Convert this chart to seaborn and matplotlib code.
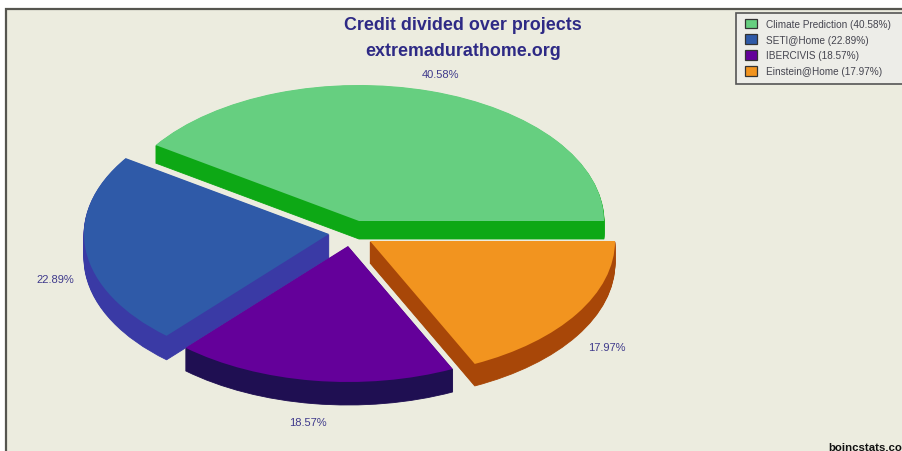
import matplotlib
matplotlib.use("Agg")
import matplotlib.pyplot as plt
from matplotlib.patches import Patch, Rectangle
import seaborn as sns

# Credit share per project
projects = ["Climate Prediction", "SETI@Home", "IBERCIVIS", "Einstein@Home"]
shares = [40.58, 22.89, 18.57, 17.97]
top_colors = ["#66CF80", "#2F5AA8", "#64009A", "#F2941F"]
side_colors = ["#0DA815", "#3A3AA5", "#1F0F52", "#A84708"]
pct_labels = ["40.58%", "22.89%", "18.57%", "17.97%"]

W, H = 902, 452
RX, RY = 245, 136
Y_SCALE = RX / RY
INK = "#2E2A85"

sns.set_theme(style="white")
plt.rcParams["font.family"] = ["Liberation Sans", "DejaVu Sans"]

fig = plt.figure(figsize=(W / 100, H / 100), dpi=100, facecolor="white")

# Cream plot area with a dark rule along its top and left edges
fig.patches.append(Rectangle((6 / W, -0.01), 1, 1.01 - 10 / H, transform=fig.transFigure,
                             facecolor="#ECECDF", edgecolor="#55554F", linewidth=1.6, zorder=-5))

ax = fig.add_axes([0, 0, 1, 1])
ax.patch.set_alpha(0)


def to_data(px, py):
    return px, (H - py) * Y_SCALE


# Apex of each slice's top face, and the thickness of its side wall (pixels)
apexes = [(359, 222), (329, 235), (348, 247), (370, 242)]
depths = [18, 24, 23, 22]

# Pie on a squashed y axis: one pass per height level gives the extruded walls
max_depth = max(depths)
for level in range(max_depth, -1, -1):
    wedges, _ = ax.pie(shares, startangle=0, radius=RX, counterclock=True,
                       colors=top_colors, wedgeprops={"linewidth": 0})
    for rank, wedge in enumerate(wedges):
        if level > depths[rank]:
            wedge.set_visible(False)
            continue
        px, py = apexes[rank]
        wedge.set_center(to_data(px, py + level))
        wedge.set_zorder(10 * (rank + 1) + (1 if level == 0 else 0))
        if level > 0:
            wedge.set_facecolor(side_colors[rank])
            wedge.set_edgecolor(side_colors[rank])
            wedge.set_linewidth(0.6)

ax.set_aspect("auto")
ax.set_xlim(0, W)
ax.set_ylim(0, H * Y_SCALE)
ax.axis("off")


def put_text(px, py, s, **kw):
    fig.text(px / W, 1 - py / H, s, ha=kw.pop("ha", "center"), va=kw.pop("va", "center"), **kw)


put_text(463, 26, "Credit divided over projects", color=INK, fontsize=12.9, fontweight="bold", zorder=60)
put_text(463, 52, "extremadurathome.org", color=INK, fontsize=12.9, fontweight="bold", zorder=60)

label_spots = [(441, 75), (55, 280), (308, 423), (607, 348)]
for (px, py), text in zip(label_spots, pct_labels):
    put_text(px, py, text, color="#3F3A8C", fontsize=8, zorder=60)

# Legend box, running off the right edge, with the entries laid into it
fig.patches.append(Rectangle((736 / W, 1 - 85 / H), 170 / W, 71 / H, transform=fig.transFigure,
                             facecolor="#EDEDE8", edgecolor="#555555", linewidth=1.2, zorder=2))
handles = [Patch(facecolor=c, edgecolor="#333333", linewidth=0.9) for c in top_colors]
labels = [f"{name} ({val:.2f}%)" for name, val in zip(projects, shares)]
legend = fig.legend(handles, labels, loc="upper left",
                    bbox_to_anchor=(745 / W, 1 - 19.5 / H), bbox_transform=fig.transFigure,
                    fontsize=7.2, labelcolor="#45454F", frameon=False,
                    handlelength=1.2, handleheight=1.1, handletextpad=0.95,
                    labelspacing=0.56, borderpad=0, borderaxespad=0)
legend.set_zorder(70)

put_text(902, 448, "boincstats.co", color="#111111", fontsize=8.2, fontweight="bold",
         ha="right", zorder=60)

fig.savefig("out.png", dpi=100, facecolor="white")
